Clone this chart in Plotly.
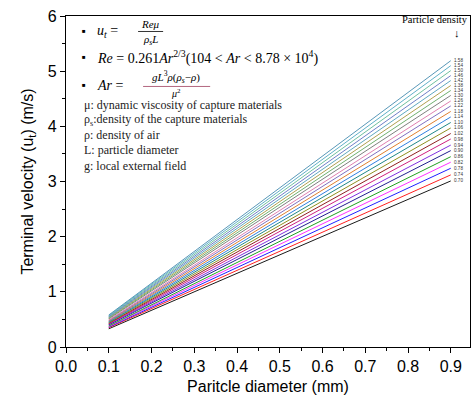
import plotly.graph_objects as go

# Data
densities = ["0.70", "0.74", "0.78", "0.82", "0.86", "0.90", "0.94", "0.98", "1.02", "1.06",
             "1.10", "1.14", "1.18", "1.22", "1.26", "1.30", "1.34", "1.38", "1.42", "1.46",
             "1.50", "1.54", "1.58"]
diameters = [0.1, 0.9]
v_at_01 = [0.33, 0.35, 0.36, 0.37, 0.38, 0.40, 0.41, 0.42, 0.43, 0.44, 0.45, 0.46,
           0.47, 0.48, 0.49, 0.51, 0.52, 0.53, 0.54, 0.55, 0.56, 0.57, 0.58]
v_at_09 = [3.01, 3.12, 3.24, 3.35, 3.45, 3.56, 3.66, 3.77, 3.87, 3.97, 4.07, 4.17,
           4.27, 4.37, 4.46, 4.56, 4.65, 4.74, 4.83, 4.92, 5.01, 5.10, 5.19]

colors = ['#1a1a1a', '#ff2020', '#2020ff', '#ff30ff', '#20a020', '#202090', '#8030e0',
          '#d02080', '#902020', '#909020', '#208888', '#3080e0', '#e08030', '#8070c0',
          '#e080b0', '#808080', '#70b070', '#b0a050', '#60a8c0', '#7080c8', '#70c0a0',
          '#60b0c8', '#5898b8']

fig = go.Figure()
for i, d in enumerate(densities):
    fig.add_trace(go.Scatter(x=diameters, y=[v_at_01[i], v_at_09[i]], mode="lines",
                             line=dict(color=colors[i], width=1), name=d, showlegend=False))
    fig.add_annotation(x=diameters[1], y=v_at_09[i], text=d, showarrow=False,
                       xanchor="left", yanchor="middle", xshift=1,
                       font=dict(family="Liberation Sans", size=4.6, color="#333"))

serif = "Liberation Serif"
def px2x(px):
    return (px - 66) / 427.0
def py2y(py):
    return (346.7 - py) / 55.2

def txt(px, py, text, size=12, anchor="left", color="black"):
    fig.add_annotation(x=px2x(px), y=py2y(py), text=text, showarrow=False,
                       xanchor=anchor, yanchor="middle",
                       font=dict(family=serif, size=size, color=color))

# formula box
txt(80, 31, "■", 6)
txt(95, 31, "<i>u<sub>t</sub></i> =", 14)
txt(150, 23, "<i>Reμ</i>", 11, "center")
txt(150, 40, "<i>ρ<sub>s</sub>L</i>", 11, "center")
fig.add_shape(type="line", x0=px2x(138), x1=px2x(163), y0=py2y(31), y1=py2y(31),
              line=dict(color="black", width=0.8))
txt(80, 57, "■", 6)
txt(95, 57, "<i>Re</i> = 0.261<i>Ar</i><sup>2/3</sup>(104 < <i>Ar</i> < 8.78 × 10<sup>4</sup>)", 14)
txt(80, 85, "■", 6)
txt(95, 85, "<i>Ar</i> =", 14)
txt(176, 77, "<i>gL</i><sup>3</sup><i>ρ</i>(<i>ρ<sub>s</sub></i>−<i>ρ</i>)", 11, "center")
txt(176, 93, "<i>μ</i><sup>2</sup>", 10, "center")
fig.add_shape(type="line", x0=px2x(143), x1=px2x(210), y0=py2y(86), y1=py2y(86),
              line=dict(color="#a04060", width=0.8))
desc_color = "#222"
txt(82, 105, "μ: dynamic viscosity of capture materials", 12, color=desc_color)
txt(82, 120, "ρ<sub>s</sub>:density of the capture materials", 12, color=desc_color)
txt(82, 135, "ρ: density of air", 12, color=desc_color)
txt(82, 150, "L: particle diameter", 12, color=desc_color)
txt(82, 166, "g: local external field", 12, color=desc_color)
txt(435, 19, "Particle density", 10.5, "center")
txt(457, 33, "↓", 11, "center")

axis_common = dict(showline=True, linecolor="black", linewidth=1.3, mirror=True,
                   ticks="outside", ticklen=5, tickwidth=1.2, tickcolor="black",
                   showgrid=False, zeroline=False,
                   tickfont=dict(family="Liberation Sans", size=16, color="black"),
                   title_font=dict(family="Liberation Sans", size=16, color="black"))

fig.update_xaxes(range=[0, 0.945], dtick=0.1, tickformat=".1f",
                 minor=dict(dtick=0.05, ticks="outside", ticklen=3, tickcolor="black"),
                 title_text="Paritcle diameter (mm)", title_standoff=6, **axis_common)
fig.update_yaxes(range=[0, 6], dtick=1,
                 minor=dict(dtick=0.5, ticks="outside", ticklen=3, tickcolor="black"),
                 title_text="Terminal velocity (u<sub>t</sub>) (m/s)", title_standoff=10,
                 **axis_common)

fig.update_layout(width=472, height=399, margin=dict(l=66, r=2, t=16, b=52),
                  plot_bgcolor="white", paper_bgcolor="white")

fig.write_html("out.html", config={"displayModeBar": False},
               post_script="document.body.style.margin='0';document.body.style.overflow='hidden';")
